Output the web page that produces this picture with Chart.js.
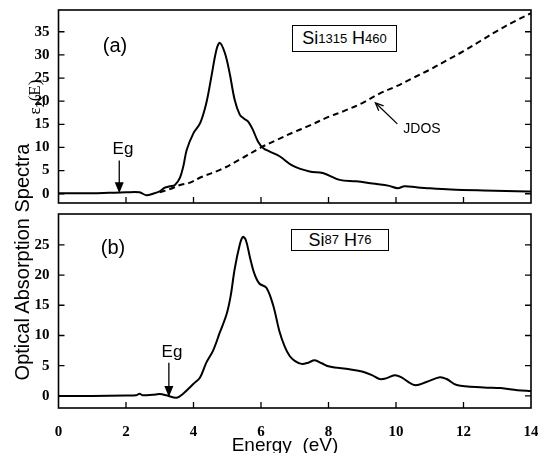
<!DOCTYPE html>
<html><head><meta charset="utf-8">
<script src="https://cdn.jsdelivr.net/npm/chart.js@4/dist/chart.umd.min.js"></script>
<style>
body{margin:0;background:#fff;width:538px;height:453px;position:relative;overflow:hidden;font-family:"Liberation Sans",Arial,sans-serif;color:#000}
.cv{position:absolute;left:0}
.lbl{position:absolute;white-space:pre;line-height:1;transform:translate(-50%,-50%)}
.rot{transform:translate(-50%,-50%) rotate(-90deg)}
.box{position:absolute;border:1.5px solid #000;box-sizing:border-box;display:flex;align-items:center;justify-content:center;font-size:18px;background:#fff}
.box sub{font-size:13px;vertical-align:-4px;line-height:0}
#err{position:absolute;left:0;top:0;font-size:10px;color:red}
</style></head><body>
<div class="cv" style="top:0;width:538px;height:206px"><canvas id="ca" width="538" height="206"></canvas></div>
<div class="cv" style="top:206px;width:538px;height:247px"><canvas id="cb" width="538" height="247"></canvas></div>

<div class="lbl rot" style="left:22px;top:262px;font-size:20px">Optical Absorption Spectra</div>
<div class="lbl rot" style="left:36px;top:97px;font-size:17px;font-family:'Liberation Serif',serif">ε<sub style="font-size:12px">2</sub>(E)</div>
<div class="lbl" style="left:115px;top:45px;font-size:20px">(a)</div>
<div class="lbl" style="left:113px;top:247px;font-size:20px">(b)</div>
<div class="lbl" style="left:123px;top:148px;font-size:17px">Eg</div>
<div class="lbl" style="left:172px;top:351px;font-size:17px">Eg</div>
<div class="lbl" style="left:422px;top:128px;font-size:14px">JDOS</div>
<div class="box" style="left:292px;top:25px;width:105px;height:27px">Si<sub>1315</sub>&nbsp;H<sub>460</sub></div>
<div class="box" style="left:291px;top:229px;width:98px;height:22px">Si<sub>87</sub>&nbsp;H<sub>76</sub></div>
<div class="lbl" style="left:285px;top:444px;font-size:19px">Energy  (eV)</div>
<div id="err"></div>

<script>
// ---- data ----
const energyTicks = [0, 2, 4, 6, 8, 10, 12, 14];
const topYTicks = [0, 5, 10, 15, 20, 25, 30, 35];
const botYTicks = [0, 5, 10, 15, 20, 25];

// (a) Si1315 H460  eps2(E)
const eA = [0,0.5,1.0,1.5,2.0,2.4,2.6,2.8,3.0,3.15,3.3,3.45,3.6,3.7,3.8,4.0,4.2,4.38,4.53,4.68,4.78,4.93,5.07,5.22,5.37,5.5,5.62,5.76,5.91,6.06,6.26,6.55,6.95,7.44,7.83,8.33,8.82,9.31,9.8,10.05,10.25,10.6,10.93,11.63,12.6,13.9,14];
const epsA = [0.1,0.1,0.1,0.2,0.3,0.3,-0.3,0.0,0.5,1.3,1.6,1.9,3.5,6.0,9.5,13.1,15.3,19.6,25.3,31.1,32.6,30.4,26.1,20.3,17.1,16.2,15.6,13.8,11.3,9.9,9.1,8.1,6.0,4.8,4.5,3.0,2.7,2.2,1.7,1.2,1.6,1.4,1.2,0.9,0.7,0.5,0.5];
// (a) JDOS
const eJ = [3.0,3.3,3.6,3.9,4.2,4.8,5.4,6.0,6.4,7.0,7.4,8.0,8.5,9.0,9.5,10.0,10.5,11.0,11.5,12.0,12.5,13.0,13.5,14.0];
const jdos = [0.3,1.0,1.9,2.4,3.5,5.2,7.5,10.0,11.4,13.4,14.6,16.6,18.0,19.6,21.6,23.2,25.0,26.8,28.8,30.8,33.0,35.2,37.2,39.0];
// (b) Si87 H76
const eB = [0,1,2,2.3,2.4,2.5,2.8,3.0,3.2,3.5,3.7,4.0,4.19,4.38,4.58,4.78,4.98,5.1,5.22,5.37,5.46,5.55,5.67,5.8,5.95,6.16,6.36,6.55,6.7,6.85,7.0,7.2,7.4,7.59,7.8,8.03,8.62,9.02,9.3,9.51,9.7,9.96,10.15,10.55,10.9,11.3,11.5,11.8,12.6,13.1,13.6,14];
const absB = [0,0,0.05,0.1,0.35,0.1,0.2,0.3,0.1,-0.3,0.4,2.0,3.0,5.5,7.5,10.5,13.5,16.5,21.0,25.0,26.3,25.8,23.0,20.3,18.6,17.9,15.0,10.6,8.2,6.6,5.8,5.3,5.5,5.9,5.4,4.85,4.4,4.0,3.4,2.8,2.9,3.4,3.1,1.8,2.3,3.1,2.8,1.8,1.4,1.3,0.95,0.8];

const pts = (xs, ys) => xs.map((x, i) => ({x, y: ys[i]}));

const serifTick = {family: "'Liberation Serif', 'Times New Roman', serif", size: 15, weight: 'bold'};

function decor(xTickList, yTickList, arrowList) {
  return {
    id: 'decor',
    afterDatasetsDraw(chart) {
      try {
        const ctx = chart.ctx, a = chart.chartArea, x = chart.scales.x, y = chart.scales.y;
        ctx.save();
        ctx.strokeStyle = '#000';
        ctx.fillStyle = '#000';
        ctx.lineWidth = 1.6;
        ctx.strokeRect(a.left, a.top, a.right - a.left, a.bottom - a.top);
        ctx.lineWidth = 1.3;
        const L = 6;
        ctx.beginPath();
        xTickList.forEach(v => {
          if (v <= 0 || v >= 14) return;
          const px = x.getPixelForValue(v);
          ctx.moveTo(px, a.bottom); ctx.lineTo(px, a.bottom - L);
        });
        yTickList.forEach(v => {
          const py = y.getPixelForValue(v);
          ctx.moveTo(a.left, py); ctx.lineTo(a.left + L, py);
          ctx.moveTo(a.right, py); ctx.lineTo(a.right - L, py);
        });
        ctx.stroke();
        arrowList.forEach(ar => {
          const x0 = x.getPixelForValue(ar.from[0]), y0 = y.getPixelForValue(ar.from[1]);
          const x1 = x.getPixelForValue(ar.to[0]), y1 = y.getPixelForValue(ar.to[1]);
          const ang = Math.atan2(y1 - y0, x1 - x0);
          ctx.lineWidth = 1.3;
          ctx.beginPath(); ctx.moveTo(x0, y0);
          ctx.lineTo(x1 - Math.cos(ang) * (ar.filled ? 8 : 1), y1 - Math.sin(ang) * (ar.filled ? 8 : 1));
          ctx.stroke();
          const hl = ar.filled ? 11 : 8, hw = ar.filled ? 4.5 : 3.5;
          const bx = x1 - Math.cos(ang) * hl, by = y1 - Math.sin(ang) * hl;
          const nx = -Math.sin(ang) * hw, ny = Math.cos(ang) * hw;
          ctx.beginPath();
          if (ar.filled) {
            ctx.moveTo(x1, y1); ctx.lineTo(bx + nx, by + ny); ctx.lineTo(bx - nx, by - ny); ctx.closePath(); ctx.fill();
          } else {
            ctx.moveTo(bx + nx, by + ny); ctx.lineTo(x1, y1); ctx.lineTo(bx - nx, by - ny); ctx.stroke();
          }
        });
        ctx.restore();
      } catch (e) { document.getElementById('err').textContent += e.message + ' '; }
    }
  };
}

function baseOptions(yMin, yMax, yTicks, showX, padding) {
  return {
    responsive: false, animation: false, events: [],
    layout: {padding},
    plugins: {legend: {display: false}, tooltip: {enabled: false}},
    elements: {point: {radius: 0}},
    scales: {
      x: {
        type: 'linear', min: 0, max: 14, display: showX,
        afterBuildTicks: s => { s.ticks = energyTicks.map(v => ({value: v})); },
        afterFit: s => { s.height = showX ? 45 : 0; s.paddingLeft = 0; s.paddingRight = 0; },
        grid: {display: false, drawTicks: false}, border: {display: false},
        ticks: {font: serifTick, color: '#000', padding: 15, maxRotation: 0, autoSkip: false}
      },
      y: {
        type: 'linear', min: yMin, max: yMax,
        afterBuildTicks: s => { s.ticks = yTicks.map(v => ({value: v})); },
        afterFit: s => { s.width = 58.5; s.paddingTop = 0; s.paddingBottom = 0; },
        grid: {display: false, drawTicks: false}, border: {display: false},
        ticks: {font: serifTick, color: '#000', padding: 9, autoSkip: false}
      }
    }
  };
}

const lineStyle = {borderColor: '#000', borderWidth: 2, tension: 0.35, fill: false, pointRadius: 0};

new Chart(document.getElementById('ca'), {
  type: 'line',
  data: {datasets: [
    Object.assign({label: 'eps2', data: pts(eA, epsA)}, lineStyle),
    Object.assign({label: 'JDOS', data: pts(eJ, jdos), borderDash: [6, 4]}, lineStyle)
  ]},
  options: baseOptions(-2, 39.7, topYTicks, false, {top: 10, right: 7, bottom: 3, left: 0}),
  plugins: [decor(energyTicks, topYTicks, [
    {from: [1.8, 7.2], to: [1.8, 0.1], filled: true},
    {from: [10.04, 15.1], to: [9.39, 19.65], filled: false}
  ])]
});

new Chart(document.getElementById('cb'), {
  type: 'line',
  data: {datasets: [
    Object.assign({label: 'abs', data: pts(eB, absB)}, lineStyle)
  ]},
  options: baseOptions(-2, 30.1, botYTicks, true, {top: 8, right: 7, bottom: 0, left: 0}),
  plugins: [decor(energyTicks, botYTicks, [
    {from: [3.27, 5.5], to: [3.27, -0.2], filled: true}
  ])]
});
</script>
</body></html>
